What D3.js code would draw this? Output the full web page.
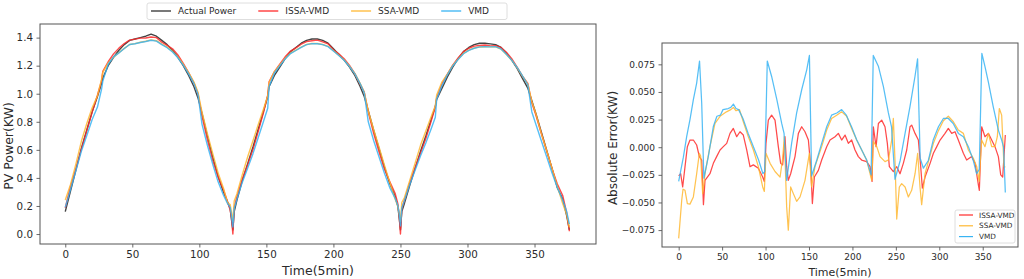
<!DOCTYPE html>
<html>
<head>
<meta charset="utf-8">
<script src="https://cdn.jsdelivr.net/npm/d3@7"></script>
<style>
  body { margin: 0; background: #fff; }
  svg text { font-family: "DejaVu Sans", sans-serif; fill: #2b2b2b; }
</style>
</head>
<body>
<div class="box"></div>
<script>
// DATA

const seriesNames = ['Actual Power', 'ISSA-VMD', 'SSA-VMD', 'VMD'];
const seriesColors = ['#303030', '#ff2a2a', '#ffb833', '#38b4f3'];

// left panel: time steps (5 min) and power in KW
const timeL = [0,4,8,12,16,20,24,27,28,32,36,40,44,48,52,56,60,64,68,72,76,80,84,88,92,96,99,102,106,110,114,118,121,123,124,125,
  126,128,132,136,140,144,148,151,152,156,160,164,168,172,176,180,184,188,192,196,200,204,208,212,216,220,223,226,230,234,238,242,246,248,249,250,
  251,253,257,261,265,269,273,276,277,281,285,289,293,297,301,305,309,313,317,321,325,329,333,337,341,345,348,351,355,359,363,367,371,374,376];

const actualPower = [0.16,0.31,0.46,0.61,0.74,0.87,0.98,1.07,1.11,1.20,1.26,1.31,1.35,1.38,1.39,1.40,1.41,1.425,1.41,1.38,1.35,1.31,1.26,1.20,1.13,1.05,0.97,0.86,0.70,0.55,0.41,0.30,0.23,0.18,0.10,0.03,
  0.16,0.24,0.38,0.50,0.62,0.75,0.88,0.98,1.05,1.13,1.19,1.25,1.30,1.33,1.36,1.38,1.39,1.39,1.38,1.36,1.32,1.28,1.24,1.19,1.13,1.05,0.98,0.88,0.74,0.61,0.48,0.36,0.27,0.20,0.12,0.03,
  0.16,0.22,0.35,0.47,0.59,0.70,0.82,0.91,0.96,1.04,1.12,1.19,1.25,1.30,1.33,1.35,1.36,1.36,1.355,1.35,1.33,1.29,1.24,1.18,1.11,1.04,0.95,0.86,0.73,0.60,0.47,0.33,0.25,0.13,0.03];

const issaVmd = [0.186,0.344,0.468,0.605,0.734,0.867,0.989,1.09,1.16,1.228,1.284,1.325,1.358,1.382,1.389,1.396,1.397,1.404,1.40,1.367,1.344,1.32,1.277,1.217,1.15,1.076,1.0,0.838,0.671,0.524,0.407,0.315,0.23,0.171,0.115,0.0,
  0.19,0.266,0.392,0.492,0.602,0.734,0.872,0.99,1.085,1.158,1.211,1.263,1.304,1.327,1.353,1.371,1.378,1.382,1.37,1.356,1.314,1.284,1.25,1.202,1.143,1.067,1.011,0.87,0.718,0.586,0.464,0.375,0.291,0.219,0.138,0.0,
  0.18,0.242,0.37,0.476,0.578,0.683,0.808,0.905,0.97,1.072,1.14,1.204,1.255,1.30,1.324,1.339,1.344,1.347,1.341,1.342,1.33,1.296,1.25,1.189,1.125,1.074,0.933,0.848,0.718,0.593,0.468,0.357,0.275,0.15,0.02];

const ssaVmd = [0.242,0.355,0.502,0.661,0.786,0.898,0.986,1.10,1.152,1.22,1.26,1.293,1.323,1.351,1.357,1.367,1.374,1.384,1.378,1.353,1.332,1.302,1.261,1.21,1.15,1.083,1.01,0.868,0.716,0.572,0.436,0.326,0.225,0.21,0.155,0.09,
  0.235,0.285,0.422,0.549,0.665,0.783,0.895,0.985,1.08,1.158,1.206,1.252,1.289,1.311,1.333,1.351,1.358,1.358,1.351,1.338,1.306,1.274,1.241,1.196,1.143,1.072,1.01,0.877,0.745,0.62,0.493,0.37,0.25,0.20,0.15,0.09,
  0.225,0.26,0.384,0.507,0.634,0.737,0.84,0.915,0.99,1.085,1.14,1.202,1.246,1.287,1.311,1.326,1.333,1.335,1.334,1.334,1.318,1.279,1.239,1.186,1.125,1.068,0.945,0.857,0.719,0.597,0.47,0.34,0.218,0.14,0.048];

const vmd = [0.19,0.32,0.455,0.59,0.70,0.815,0.905,1.03,1.09,1.21,1.263,1.291,1.322,1.351,1.356,1.365,1.372,1.381,1.375,1.35,1.328,1.297,1.256,1.204,1.142,1.072,0.995,0.782,0.633,0.497,0.372,0.276,0.218,0.19,0.13,0.05,
  0.18,0.247,0.368,0.469,0.573,0.69,0.808,0.897,1.05,1.148,1.199,1.248,1.286,1.308,1.331,1.35,1.357,1.356,1.35,1.336,1.304,1.272,1.239,1.194,1.141,1.07,1.006,0.80,0.667,0.55,0.435,0.331,0.255,0.205,0.15,0.058,
  0.186,0.24,0.354,0.457,0.558,0.65,0.752,0.832,0.96,1.058,1.135,1.198,1.244,1.285,1.309,1.324,1.334,1.335,1.334,1.336,1.319,1.282,1.239,1.187,1.127,1.064,0.87,0.782,0.666,0.552,0.437,0.332,0.242,0.16,0.071];

// right panel: absolute error (KW), [time, error]
const errIssa = [[0,-0.026],[2.3,-0.024],[4.6,-0.036],[7.3,-0.0176],[10,0.0005],[13,0.0065],[16.9,0.0065],[20.7,0.002],[23.8,-0.0085],[26.5,-0.0116],[28.5,-0.052],[30.3,-0.030],[36,-0.024],[39.9,-0.0146],[43.7,-0.0085],[47.6,-0.0025],[51.4,0.0005],[55.3,0.0035],[59.1,0.0125],[62.9,0.017],[66.8,0.0095],[70.6,0.014],[74.4,0.011],[78.3,-0.0025],[82.1,-0.0176],[86,-0.016],[91.7,-0.019],[96.7,-0.027],[98.6,-0.031],[100.5,0.0035],[103.2,0.0245],[107,0.029],[110.9,0.0245],[114.7,0.0005],[117.4,-0.0146],[119.7,-0.016],[122.4,0.0095],[124.3,-0.0176],[126.2,-0.030],[128.9,-0.024],[133.9,-0.0085],[137.8,0.0125],[141.6,0.0185],[145.4,0.014],[149.3,0.0065],[152,-0.0176],[153.9,-0.051],[156.2,-0.027],[160.8,-0.021],[164.6,-0.0116],[170.4,0.0005],[174.2,0.0065],[180,0.0095],[183.8,0.0125],[187.6,0.0065],[191.5,0.011],[195.3,0.0035],[199.1,0.0065],[203,-0.0025],[206.8,-0.0085],[210.6,-0.0116],[216.4,-0.013],[220.3,-0.0176],[222.6,-0.031],[224.1,0.0185],[227.2,0.0005],[229.9,0.0215],[233.7,0.0245],[237.5,0.0185],[240.2,0.0035],[242.5,-0.0176],[247.1,-0.022],[251,-0.0176],[254.8,-0.024],[258.6,-0.0146],[262.5,-0.0025],[266.3,0.0185],[268.2,0.02],[272.1,0.0125],[275.9,0.0065],[278.6,-0.0176],[280.5,-0.037],[283.6,-0.027],[289.4,-0.0146],[293.2,-0.0055],[297.1,0.0005],[300.9,0.0065],[306.6,0.0125],[310.4,0.017],[314.3,0.0125],[318.1,0.014],[321.9,0.0065],[327.7,-0.0055],[331.5,-0.0116],[337.3,-0.0085],[341.2,-0.0146],[345,-0.034],[346.1,-0.039],[348.8,0.0185],[352.6,0.0095],[356.5,0.0125],[360.3,0.0065],[364.1,0.0005],[368,-0.0085],[370.7,-0.025],[373,-0.027],[376,0.011]];

const errSsa = [[0,-0.0825],[3.5,-0.048],[5,-0.038],[7.3,-0.039],[10,-0.051],[13,-0.0515],[16.9,-0.045],[20.7,-0.024],[23.8,-0.0055],[25.3,-0.008],[27.6,-0.042],[30.3,-0.024],[36,0.0005],[41.8,0.0215],[47.6,0.028],[55,0.032],[60,0.034],[63,0.036],[66,0.033],[70,0.034],[74.4,0.023],[80.2,0.0095],[86,-0.0025],[91.7,-0.0176],[96.7,-0.036],[98.6,-0.040],[100.5,-0.0055],[105.2,-0.0146],[110.9,-0.022],[116.7,-0.027],[119.7,-0.01],[121.6,0.0095],[124.3,-0.054],[126.2,-0.075],[128.9,-0.036],[132,-0.042],[135.8,-0.049],[139.7,-0.045],[145.4,-0.030],[150.4,-0.0055],[153,-0.036],[156.9,-0.0176],[164.6,0.0005],[170.4,0.0155],[176,0.026],[181.9,0.029],[187.6,0.032],[193.4,0.028],[199.1,0.017],[204.9,0.0065],[210.7,-0.0025],[216.4,-0.0116],[222.2,-0.030],[224.1,0.005],[228,0.0005],[231.8,-0.0085],[237.5,-0.013],[241.4,-0.0116],[245.2,0.0065],[247.1,0.026],[249,-0.012],[251,-0.065],[254,-0.036],[256.7,-0.033],[260.6,-0.036],[264.4,-0.045],[268.2,-0.039],[272.1,-0.024],[275.1,-0.0055],[277.8,-0.036],[279.7,-0.052],[283.6,-0.024],[293.2,0.0035],[299,0.015],[304.7,0.024],[310.4,0.028],[316.2,0.023],[321.9,0.0155],[327.7,0.0125],[333.5,-0.0025],[339.2,-0.010],[343.1,-0.0176],[345.8,-0.031],[348.8,0.0065],[352.6,0.0005],[356.5,0.0125],[360.3,0.0005],[364.1,0.0005],[366.8,0.0095],[369.1,0.035],[371.8,0.029],[374.5,-0.0176],[376,-0.018]];

const errVmd = [[0,-0.031],[5.4,-0.009],[9.2,0.0095],[13,0.025],[16.9,0.043],[20.7,0.058],[24,0.078],[26.5,0.04],[29,-0.028],[34,-0.009],[40,0.019],[44,0.028],[48,0.029],[51,0.034],[57,0.035],[60,0.036],[63,0.039],[66,0.035],[69,0.034],[74,0.026],[80,0.0125],[86,0.0005],[92,-0.0116],[97,-0.024],[99,-0.022],[102,0.078],[107,0.064],[113,0.043],[118.6,0.0215],[121.3,0.0125],[124.3,-0.030],[130,0.0035],[135.8,0.031],[141.6,0.052],[147.4,0.07],[150.5,0.083],[153,-0.026],[159,-0.0116],[164.6,0.0035],[170.4,0.0185],[176,0.029],[182,0.031],[187.6,0.034],[193,0.029],[199,0.0185],[205,0.0065],[210.7,-0.0025],[216.4,-0.0116],[221.5,-0.025],[224,0.083],[230,0.073],[235.6,0.055],[241.4,0.031],[245,0.0185],[249,-0.029],[255,-0.012],[260.6,0.0125],[266.3,0.037],[272,0.064],[275,0.08],[278,-0.01],[281.7,-0.019],[287.4,-0.012],[293,0.0065],[299,0.0185],[304.7,0.026],[310.4,0.026],[316,0.0215],[322,0.0125],[327.7,0.0095],[333.5,0.0005],[339,-0.0116],[343,-0.024],[346,-0.02],[349,0.085],[352.6,0.073],[356.5,0.059],[362,0.037],[368,0.0155],[371.8,0.0065],[374,0.0],[376,-0.041]];

const xTicks = [0, 50, 100, 150, 200, 250, 300, 350];
const powerTicks = [0, 0.2, 0.4, 0.6, 0.8, 1.0, 1.2, 1.4];
const errTicks = [-0.075, -0.05, -0.025, 0, 0.025, 0.05, 0.075];

// SETUP

const svg = d3.select('.box')
              .append('svg')
              .attr('width', 1024)
              .attr('height', 279)
              .style('background', '#fff')
              .style('display', 'block');

// both panels, in page pixels
const left = {x0: 40, x1: 596, y0: 24, y1: 244};
const right = {x0: 662, x1: 1018, y0: 43, y1: 247};

const xL = d3.scaleLinear().domain([-18.85, 395.85]).range([left.x0, left.x1]);
const yL = d3.scaleLinear().domain([-0.071, 1.497]).range([left.y1, left.y0]);
const xR = d3.scaleLinear().domain([-19.2, 390.6]).range([right.x0, right.x1]);
const yR = d3.scaleLinear().domain([-0.0903, 0.0943]).range([right.y1, right.y0]);

// draws the ticks of one panel
const drawAxes = (box, x, y, yTicks, yFmt, fontSize) => {
  const gx = svg.append('g')
                .attr('transform', `translate(0, ${box.y1})`)
                .call(d3.axisBottom(x).tickValues(xTicks).tickSize(3.5).tickPadding(3.5).tickFormat(d3.format('d')));
  const gy = svg.append('g')
                .attr('transform', `translate(${box.x0}, 0)`)
                .call(d3.axisLeft(y).tickValues(yTicks).tickSize(3.5).tickPadding(3.5).tickFormat(yFmt));
  [gx, gy].forEach(g => {
    g.select('.domain').remove();
    g.selectAll('line').attr('stroke', '#444').attr('stroke-width', 0.8);
    g.selectAll('text')
     .style('font-family', '"DejaVu Sans", sans-serif')
     .style('font-size', fontSize + 'px')
     .attr('fill', '#2b2b2b');
  });
};

drawAxes(left, xL, yL, powerTicks, d3.format('.1f'), 10.3);
drawAxes(right, xR, yR, errTicks, d3.format('.3f'), 9);

// LEFT PANEL LINES
const lineL = d3.line().x(d => xL(d[0])).y(d => yL(d[1]));
const leftSeries = [actualPower, issaVmd, ssaVmd, vmd];

svg.append('clipPath').attr('id', 'clipL')
   .append('rect')
   .attr('x', left.x0).attr('y', left.y0)
   .attr('width', left.x1 - left.x0).attr('height', left.y1 - left.y0);

svg.append('g')
   .attr('clip-path', 'url(#clipL)')
   .selectAll('path')
   .data(leftSeries)
   .enter()
   .append('path')
   .attr('d', d => lineL(d3.zip(timeL, d)))
   .attr('fill', 'none')
   .attr('stroke', (d, i) => seriesColors[i])
   .attr('stroke-width', 1.4)
   .attr('stroke-opacity', (d, i) => i === 0 ? 0.9 : 0.85)
   .attr('stroke-linejoin', 'round');

// RIGHT PANEL LINES
const lineR = d3.line().x(d => xR(d[0])).y(d => yR(d[1]));
const rightSeries = [errIssa, errSsa, errVmd];

svg.append('g')
   .selectAll('path')
   .data(rightSeries)
   .enter()
   .append('path')
   .attr('d', d => lineR(d))
   .attr('fill', 'none')
   .attr('stroke', (d, i) => seriesColors[i + 1])
   .attr('stroke-width', 1.25)
   .attr('stroke-opacity', 0.85)
   .attr('stroke-linejoin', 'round');

// frames
[left, right].forEach(b => {
  svg.append('rect')
     .attr('x', b.x0).attr('y', b.y0)
     .attr('width', b.x1 - b.x0).attr('height', b.y1 - b.y0)
     .attr('fill', 'none')
     .attr('stroke', '#555')
     .attr('stroke-width', 1);
});

// axis titles
svg.append('text')
   .text('Time(5min)')
   .attr('x', (left.x0 + left.x1) / 2)
   .attr('y', 275)
   .style('font-size', '12.5px')
   .style('text-anchor', 'middle');

svg.append('text')
   .text('PV Power(KW)')
   .attr('transform', `translate(13, 146) rotate(-90)`)
   .style('font-size', '12.5px')
   .style('text-anchor', 'middle');

svg.append('text')
   .text('Time(5min)')
   .attr('x', (right.x0 + right.x1) / 2)
   .attr('y', 275.5)
   .style('font-size', '11px')
   .style('text-anchor', 'middle');

svg.append('text')
   .text('Absolute Error(KW)')
   .attr('transform', `translate(617, 148) rotate(-90)`)
   .style('font-size', '12px')
   .style('text-anchor', 'middle');

// TOP LEGEND (left panel)
const legTop = svg.append('g');
legTop.append('rect')
      .attr('x', 147).attr('y', 3)
      .attr('width', 360).attr('height', 16.5)
      .attr('rx', 2)
      .attr('fill', '#fff')
      .attr('stroke', '#d6d6d6')
      .attr('stroke-width', 0.8);

let lx = 151;
seriesNames.forEach((name, i) => {
  legTop.append('line')
        .attr('x1', lx).attr('x2', lx + 20)
        .attr('y1', 11).attr('y2', 11)
        .attr('stroke', seriesColors[i])
        .attr('stroke-width', 1.3);
  const t = legTop.append('text')
                  .text(name)
                  .attr('x', lx + 27)
                  .attr('y', 14.3)
                  .style('font-size', '9px');
  lx += 27 + t.node().getComputedTextLength() + 22;
});

// RIGHT LEGEND
const legR = svg.append('g');
legR.append('rect')
    .attr('x', 955).attr('y', 210)
    .attr('width', 60).attr('height', 33)
    .attr('rx', 2)
    .attr('fill', '#fff')
    .attr('fill-opacity', 0.85)
    .attr('stroke', '#d6d6d6')
    .attr('stroke-width', 0.8);

seriesNames.slice(1).forEach((name, i) => {
  const yy = 215 + i * 10.8;
  legR.append('line')
      .attr('x1', 959).attr('x2', 973)
      .attr('y1', yy).attr('y2', yy)
      .attr('stroke', seriesColors[i + 1])
      .attr('stroke-width', 1.2);
  legR.append('text')
      .text(name)
      .attr('x', 979)
      .attr('y', yy + 2.6)
      .style('font-size', '7.3px');
});
</script>
</body>
</html>
